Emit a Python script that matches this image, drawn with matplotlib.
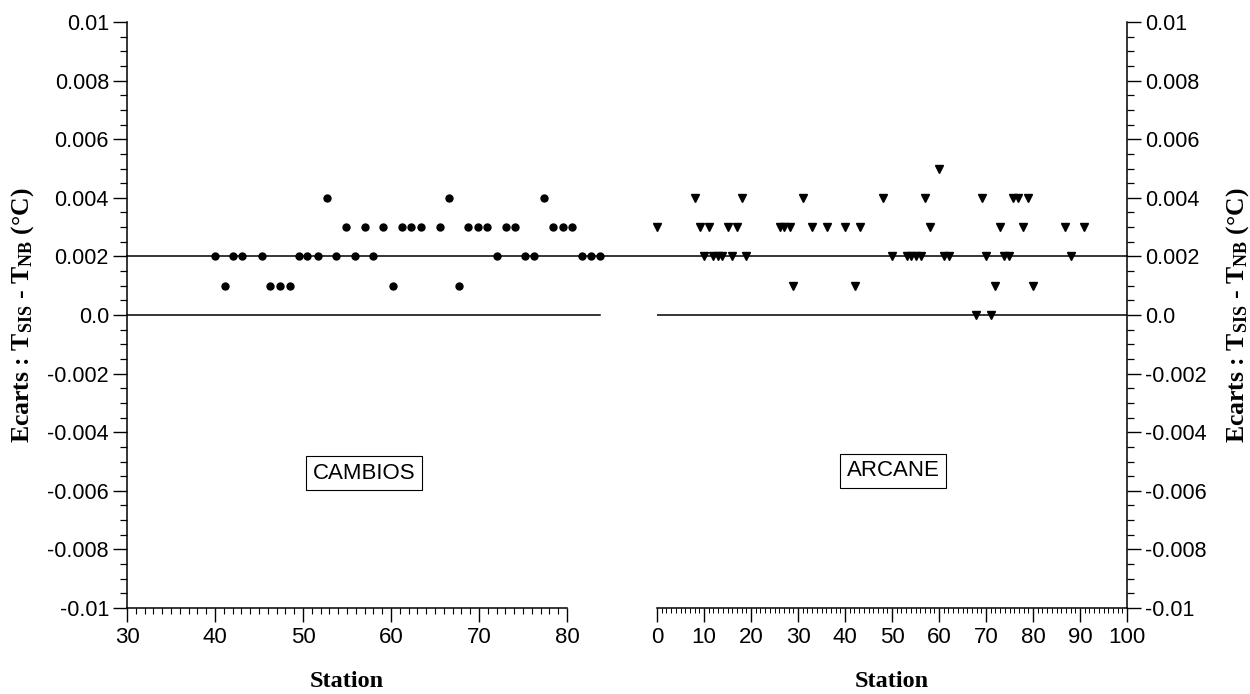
import matplotlib
matplotlib.use('Agg')
import matplotlib.pyplot as plt
from matplotlib.ticker import MultipleLocator, FixedLocator, FixedFormatter
from matplotlib.lines import Line2D
import matplotlib.transforms as mtransforms

plt.rcParams['font.family'] = ['Liberation Sans', 'DejaVu Sans']
plt.rcParams['mathtext.fontset'] = 'custom'
plt.rcParams['mathtext.rm'] = 'Liberation Serif:bold'
plt.rcParams['mathtext.it'] = 'Liberation Serif:bold'
plt.rcParams['mathtext.bf'] = 'Liberation Serif:bold'

# ---------------- data ----------------
# CAMBIOS (left panel, circles)
cambios_station = [52.7, 66.6, 77.4,
                   54.9, 57.0, 59.1, 61.25, 62.3, 63.4, 65.6, 68.8, 69.85, 70.9, 73.1, 74.1, 78.4, 79.5, 80.6,
                   40.0, 42.1, 43.1, 45.3, 49.6, 50.5, 51.7, 53.75, 55.9, 58.0, 72.0, 75.2, 76.3, 81.7, 82.7, 83.8,
                   41.1, 46.3, 47.4, 48.5, 60.2, 67.7]
cambios_ecart = [0.004] * 3 + [0.003] * 15 + [0.002] * 16 + [0.001] * 6

# ARCANE (right panel, triangles)
arcane_station = [60.1,
                  8.05, 18.1, 31.0, 48.1, 57.1, 69.1, 75.8, 76.9, 78.9,
                  0.06, 9.1, 11.0, 15.0, 17.1, 26.1, 27.1, 28.2, 33.0, 36.2, 40.0, 43.2, 58.1, 72.9, 77.9, 86.9, 90.9,
                  10.0, 11.9, 12.9, 13.8, 16.0, 19.0, 50.1, 53.2, 54.1, 55.0, 56.1, 61.0, 62.1, 70.1, 73.9, 74.9, 88.0,
                  29.0, 42.1, 72.0, 80.0,
                  67.9, 71.0]
arcane_ecart = [0.005] + [0.004] * 9 + [0.003] * 17 + [0.002] * 17 + [0.001] * 4 + [0.0] * 2

reference_level = 0.002
zero_level = 0.0
left_zero_line_end = 83.8

y_ticks = [0.01, 0.008, 0.006, 0.004, 0.002, 0.0, -0.002, -0.004, -0.006, -0.008, -0.01]
y_tick_labels = ['0.01', '0.008', '0.006', '0.004', '0.002', '0.0',
                 '-0.002', '-0.004', '-0.006', '-0.008', '-0.01']
left_x_ticks = [30, 40, 50, 60, 70, 80]
right_x_ticks = [0, 10, 20, 30, 40, 50, 60, 70, 80, 90, 100]

ylabel = r'Ecarts : T$_{\mathrm{SIS}}$ - T$_{\mathrm{NB}}$ (°C)'

# ---------------- figure ----------------
W, H = 1250, 694
fig = plt.figure(figsize=(W / 100, H / 100), dpi=100)
ax1 = fig.add_axes([127 / W, 86 / H, 440 / W, 586 / H])
ax2 = fig.add_axes([657 / W, 86 / H, 470 / W, 586 / H])

serif = dict(family='Liberation Serif', fontweight='bold')

for ax in (ax1, ax2):
    ax.set_ylim(-0.01, 0.01)
    ax.yaxis.set_major_locator(FixedLocator(y_ticks))
    ax.yaxis.set_major_formatter(FixedFormatter(y_tick_labels))
    ax.yaxis.set_minor_locator(MultipleLocator(0.0005))
    ax.xaxis.set_minor_locator(MultipleLocator(1))
    ax.spines['top'].set_visible(False)
    for s in ax.spines.values():
        s.set_linewidth(1.1)
    ax.tick_params(axis='y', which='major', direction='out', length=10, width=1.0,
                   labelsize=15.5, pad=3)
    ax.tick_params(axis='y', which='minor', direction='out', length=5, width=0.9)
    ax.tick_params(axis='x', which='major', direction='out', length=10, width=1.0,
                   labelsize=16, pad=4)
    ax.set_xlabel('Station', fontsize=17.5, **serif)
    ax.xaxis.set_label_coords(0.5, -0.108)

# left panel
ax1.set_xlim(30, 80)
ax1.xaxis.set_major_locator(FixedLocator(left_x_ticks))
ax1.spines['right'].set_visible(False)
ax1.tick_params(axis='x', which='minor', direction='out', length=4, width=0.8)
ax1.plot(cambios_station, cambios_ecart, linestyle='none', marker='o', ms=5,
         color='black', clip_on=False, zorder=3)
ax1.plot([30, left_zero_line_end], [zero_level, zero_level], color='black', lw=1.1,
         clip_on=False)
ax1.set_ylabel(ylabel, fontsize=18.5, **serif)
ax1.yaxis.set_label_coords(-0.207, 0.5)
ax1.text(0.539, 0.230, 'CAMBIOS', transform=ax1.transAxes, ha='center', va='center',
         fontsize=16, bbox=dict(boxstyle='square,pad=0.3', fc='white', ec='black', lw=0.8))

# right panel
ax2.set_xlim(0, 100)
ax2.xaxis.set_major_locator(FixedLocator(right_x_ticks))
ax2.spines['left'].set_visible(False)
ax2.yaxis.tick_right()
ax2.yaxis.set_label_position('right')
ax2.tick_params(axis='x', which='minor', direction='out', length=3.5, width=0.7)
ax2.plot(arcane_station, arcane_ecart, linestyle='none', marker='v', ms=6,
         color='black', clip_on=False, zorder=3)
ax2.axhline(zero_level, color='black', lw=1.1)
ax2.set_ylabel(ylabel, fontsize=18.5, rotation=90, **serif)
ax2.yaxis.set_label_coords(1.206, 0.5)
ax2.text(0.502, 0.234, 'ARCANE', transform=ax2.transAxes, ha='center', va='center',
         fontsize=16, bbox=dict(boxstyle='square,pad=0.3', fc='white', ec='black', lw=0.8))

# continuous reference line at 0.002 across both panels
trans = mtransforms.blended_transform_factory(fig.transFigure, ax1.transData)
x0 = ax1.get_position().x0
x1 = ax2.get_position().x1
fig.add_artist(Line2D([x0, x1], [reference_level, reference_level], transform=trans,
                      color='black', lw=1.1))

fig.savefig('out.png', dpi=100)
